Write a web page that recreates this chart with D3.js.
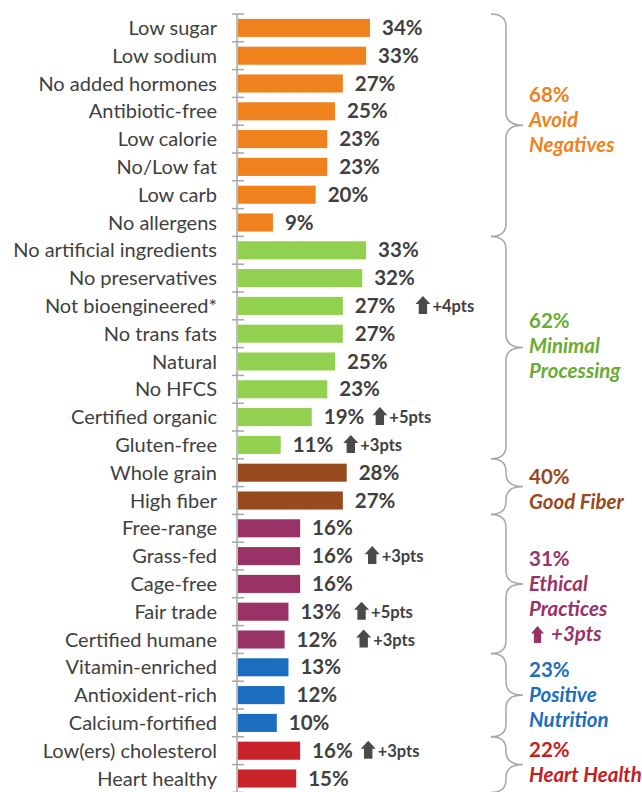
<!DOCTYPE html>
<html>
<head>
<meta charset="utf-8">
<script src="https://cdn.jsdelivr.net/npm/d3@7"></script>
<style>
  body { margin: 0; background: #fff; }
  svg { display: block; font-family: Lato, "Open Sans", sans-serif; }
</style>
</head>
<body>
<div id="chart"></div>
<script>
// data
const categories = [
  "Low sugar", "Low sodium", "No added hormones", "Antibiotic-free", "Low calorie",
  "No/Low fat", "Low carb", "No allergens",
  "No artificial ingredients", "No preservatives", "Not bioengineered*", "No trans fats",
  "Natural", "No HFCS", "Certified organic", "Gluten-free",
  "Whole grain", "High fiber",
  "Free-range", "Grass-fed", "Cage-free", "Fair trade", "Certified humane",
  "Vitamin-enriched", "Antioxident-rich", "Calcium-fortified",
  "Low(ers) cholesterol", "Heart healthy"
];
const values = [34, 33, 27, 25, 23, 23, 20, 9,
                33, 32, 27, 27, 25, 23, 19, 11,
                28, 27,
                16, 16, 16, 13, 12,
                13, 12, 10,
                16, 15];
// change vs previous year, in points (null = none shown)
const changes = [null, null, null, null, null, null, null, null,
                 null, null, 4, null, null, null, 5, 3,
                 null, null,
                 null, 3, null, 5, 3,
                 null, null, null,
                 3, null];

const groupNames  = ["Avoid Negatives", "Minimal Processing", "Good Fiber", "Ethical Practices", "Positive Nutrition", "Heart Health"];
const groupTotals = [68, 62, 40, 31, 23, 22];
const groupSizes  = [8, 8, 2, 5, 3, 2];
const groupChange = [null, null, null, 3, null, null];

// styles
const barColors  = ["#F0821E", "#92D050", "#974A1E", "#993366", "#1B6EBF", "#C8232B"];
const textColors = ["#F0821E", "#6AAB35", "#974A1E", "#993366", "#1B6EBF", "#C41E24"];
const groupLines = [
  ["Avoid", "Negatives"], ["Minimal", "Processing"], ["Good Fiber"],
  ["Ethical", "Practices"], ["Positive", "Nutrition"], ["Heart Health"]
];
const groupTextShift = [-23, -20, -3, -18, -18, -8];   // first baseline vs brace tip
const arrowGap = {
  "Not bioengineered*": 20, "Certified organic": 8, "Gluten-free": 10,
  "Grass-fed": 12, "Fair trade": 13, "Certified humane": 19, "Low(ers) cholesterol": 8
};

const width = 642, height = 792;
const dark = "#404040";

const svg = d3.select("#chart").append("svg")
  .attr("width", width)
  .attr("height", height)
  .attr("viewBox", `0 0 ${width} ${height}`);

// group index for each row
const rowGroup = [];
groupSizes.forEach((n, g) => { for (let i = 0; i < n; i++) rowGroup.push(g); });

const y = d3.scaleBand()
  .domain(categories)
  .range([14, 14 + categories.length * 27.8])
  .paddingInner(0.35)
  .paddingOuter(0.175);

const x = d3.scaleLinear()
  .domain([0, 34])
  .range([238, 370]);

const step = y.step();
const bandTop = c => y(c) - y.paddingOuter() * step;

// axis line with ticks
const axis = svg.append("g").attr("transform", `translate(237,0)`);
axis.append("line")
  .attr("y1", 14).attr("y2", height)
  .attr("stroke", "#a6a6a6").attr("stroke-width", 1.5);
axis.selectAll("line.tick")
  .data(d3.range(categories.length + 1))
  .join("line")
  .classed("tick", true)
  .attr("x1", -5).attr("x2", 7)
  .attr("y1", i => 14 + i * step).attr("y2", i => 14 + i * step)
  .attr("stroke", "#a6a6a6").attr("stroke-width", 1.5);

// bars
svg.selectAll("rect.bar")
  .data(categories)
  .join("rect")
  .classed("bar", true)
  .attr("x", x(0))
  .attr("y", d => y(d))
  .attr("width", (d, i) => x(values[i]) - x(0))
  .attr("height", y.bandwidth())
  .attr("fill", (d, i) => barColors[rowGroup[i]]);

// category labels
svg.selectAll("text.cat")
  .data(categories)
  .join("text")
  .classed("cat", true)
  .attr("x", 217)
  .attr("y", d => y(d) + y.bandwidth() / 2 + 7)
  .attr("text-anchor", "end")
  .attr("fill", dark)
  .style("font-size", "20px")
  .text(d => d);

// value labels
const valLabels = svg.selectAll("text.val")
  .data(categories)
  .join("text")
  .classed("val", true)
  .attr("x", (d, i) => x(values[i]) + 12)
  .attr("y", d => y(d) + y.bandwidth() / 2 + 7)
  .attr("fill", dark)
  .style("font-size", "20.5px")
  .style("font-weight", "bold")
  .text((d, i) => values[i] + "%");

// block arrow, origin at top-left
function arrowPath(w, h) {
  const head = h * 0.45, shaft = w * 0.28;
  return `M${w / 2},0 L${w},${head} L${w / 2 + shaft},${head} L${w / 2 + shaft},${h}` +
         ` L${w / 2 - shaft},${h} L${w / 2 - shaft},${head} L0,${head} Z`;
}

valLabels.each(function (d, i) {
  if (changes[i] == null) return;
  const end = x(values[i]) + 12 + this.getComputedTextLength();
  const ax = end + (arrowGap[d] || 10);
  const cy = y(d) + y.bandwidth() / 2;
  svg.append("path")
    .attr("d", arrowPath(15, 18))
    .attr("transform", `translate(${ax},${cy - 10})`)
    .attr("fill", "#4a4a4a");
  svg.append("text")
    .attr("x", ax + 17)
    .attr("y", cy + 6)
    .attr("fill", dark)
    .style("font-size", "16.5px")
    .style("font-weight", "bold")
    .text(`+${changes[i]}pts`);
});

// braces and group labels
let start = 0;
groupSizes.forEach((n, g) => {
  const top = bandTop(categories[start]);
  const bot = top + n * step;
  const mid = (top + bot) / 2;
  const x0 = 491, x1 = 506, x2 = 523, r = 13;
  svg.append("path")
    .attr("d", `M${x0},${top} Q${x1},${top} ${x1},${top + r} L${x1},${mid - r} Q${x1},${mid} ${x2},${mid}` +
               ` Q${x1},${mid} ${x1},${mid + r} L${x1},${bot - r} Q${x1},${bot} ${x0},${bot}`)
    .attr("fill", "none")
    .attr("stroke", "#a6a6a6")
    .attr("stroke-width", 1.5);

  const gy = mid + groupTextShift[g];
  const t = svg.append("g").attr("fill", textColors[g]).style("font-weight", "bold").style("font-size", "20.5px");
  t.append("text").attr("x", 529).attr("y", gy).text(groupTotals[g] + "%");
  groupLines[g].forEach((line, k) => {
    t.append("text")
      .attr("x", 529).attr("y", gy + 25 * (k + 1))
      .style("font-style", "italic")
      .text(line);
  });
  if (groupChange[g] != null) {
    const ly = gy + 25 * (groupLines[g].length + 1);
    t.append("path")
      .attr("d", arrowPath(13, 17))
      .attr("transform", `translate(531,${ly - 15})`);
    t.append("text")
      .attr("x", 551).attr("y", ly)
      .style("font-style", "italic")
      .text(`+${groupChange[g]}pts`);
  }
  start += n;
});
</script>
</body>
</html>
